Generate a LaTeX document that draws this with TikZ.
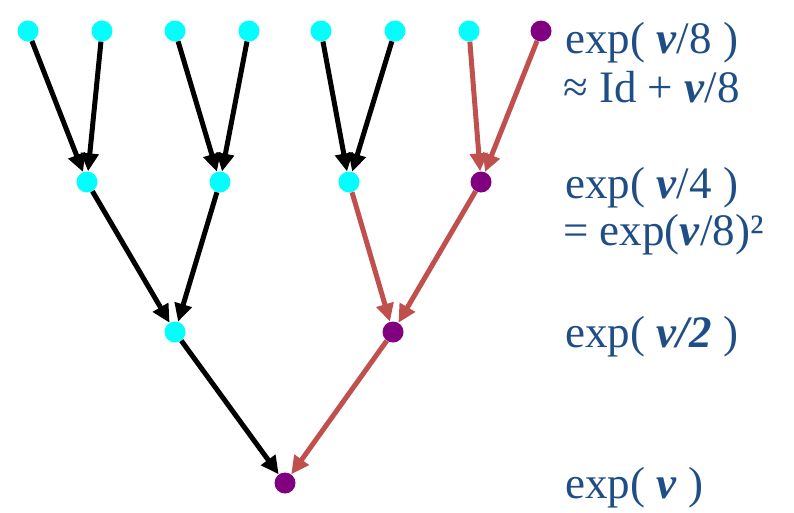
\documentclass[tikz,border=0pt]{standalone}
\usepackage{fontspec}
\setmainfont{Liberation Serif}
\usetikzlibrary{arrows.meta}
\definecolor{txtblue}{RGB}{31,78,135}
\definecolor{edgered}{RGB}{192,80,77}
\definecolor{dotpurple}{RGB}{128,0,128}
\definecolor{dotcyan}{RGB}{0,255,255}
\newcommand{\vv}{\textbf{\textit{v}}}
\tikzset{
  dot/.style={circle,inner sep=0pt,minimum size=21pt,fill=dotcyan},
  pdot/.style={dot,fill=dotpurple},
  edge/.style={line width=5pt,-{Triangle[length=18pt,width=17pt]}},
  redge/.style={edge,draw=edgered,color=edgered},
  lbl/.style={anchor=base west,inner sep=0pt,text=txtblue,font=\fontsize{45}{50}\selectfont}
}
\begin{document}
\begin{tikzpicture}[x=1pt,y=1pt]
\useasboundingbox (0,0) rectangle (794,-512);
% top row
\node[dot] (a1) at (28,-31) {};
\node[dot] (a2) at (102,-31) {};
\node[dot] (a3) at (175,-31) {};
\node[dot] (a4) at (249,-31) {};
\node[dot] (a5) at (321,-31) {};
\node[dot] (a6) at (395,-31) {};
\node[dot] (a7) at (469,-31) {};
\node[pdot] (a8) at (541,-31) {};
% level 2
\node[dot] (b1) at (87,-182) {};
\node[dot] (b2) at (220,-182) {};
\node[dot] (b3) at (349,-182) {};
\node[pdot] (b4) at (481,-182) {};
% level 3
\node[dot] (c1) at (175,-332) {};
\node[pdot] (c2) at (393,-332) {};
% level 4
\node[pdot] (d1) at (285,-483) {};
% edges
\draw[edge] (a1) -- (b1);
\draw[edge] (a2) -- (b1);
\draw[edge] (a3) -- (b2);
\draw[edge] (a4) -- (b2);
\draw[edge] (a5) -- (b3);
\draw[edge] (a6) -- (b3);
\draw[redge] (a7) -- (b4);
\draw[redge] (a8) -- (b4);
\draw[edge] (b1) -- (c1);
\draw[edge] (b2) -- (c1);
\draw[redge] (b3) -- (c2);
\draw[redge] (b4) -- (c2);
\draw[edge] (c1) -- (d1);
\draw[redge] (c2) -- (d1);
% labels
\node[lbl] (t1) at (565,-53) {exp( \vv/8 )};
\node[lbl] (t2) at (563,-102) {≈ Id + \vv/8};
\node[lbl] (t3) at (565,-198) {exp( \vv/4 )};
\node[lbl] (t4) at (563,-245) {= exp(\vv/8)²};
\node[lbl] (t5) at (565,-347) {exp( \vv\textbf{\textit{/2}} )};
\node[lbl] (t6) at (565,-498) {exp( \vv\ )};
\end{tikzpicture}
\end{document}
